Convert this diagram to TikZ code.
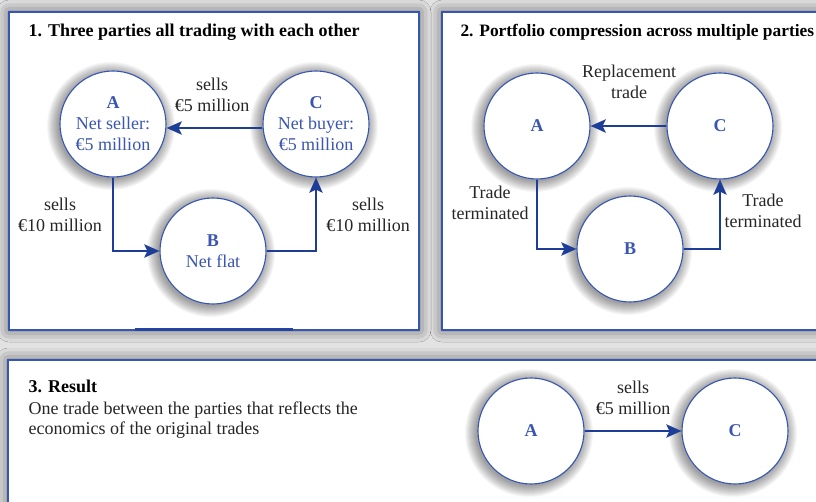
\documentclass[tikz,border=0pt]{standalone}
\usepackage{fontspec}
\setmainfont{Liberation Serif}
\usetikzlibrary{arrows.meta,shadows.blur}

\definecolor{frameblue}{HTML}{3556B4}
\definecolor{edgeblue}{HTML}{2444A4}
\definecolor{arrowblue}{HTML}{1D3D96}
\definecolor{partyblue}{HTML}{3A56B0}
\definecolor{bggray}{HTML}{E2E2E2}

\tikzset{
  panel/.style={draw=frameblue, line width=1.4pt, fill=white,
    blur shadow={shadow xshift=0pt, shadow yshift=0pt,
                 shadow blur radius=12pt, shadow opacity=60}},
  party/.style={circle, draw=frameblue, line width=1.1pt, fill=white,
    minimum size=106pt, inner sep=0pt, align=center, text=partyblue,
    font=\fontsize{18}{21}\selectfont},
  haloring/.style={fill=black, opacity=0.034},
  trade/.style={draw=arrowblue, line width=2.9pt,
    -{Stealth[length=15pt,width=13pt,inset=3pt]}},
  lbl/.style={align=center, font=\fontsize{18}{21}\selectfont, text=black!85},
  ptitle/.style={anchor=west, font=\bfseries\fontsize{18}{21}\selectfont},
}

% soft shadow round a party circle: stacked translucent discs
\newcommand\partyhalo[1]{%
  \foreach \k in {1,...,12}
    \fill[haloring] ([shift={(-2,2)}]#1) circle[radius=52+\k];}

\begin{document}
\begin{tikzpicture}
\useasboundingbox (0pt,0pt) rectangle (816pt,-502pt);
\clip (0pt,0pt) rectangle (816pt,-502pt);
\fill[bggray] (0pt,0pt) rectangle (816pt,-502pt);
\begin{scope}[x=1pt,y=-1pt]

% the three panels
\draw[panel] (9,12) rectangle (419,330);
\draw[panel] (442,12) rectangle (840,330);
\draw[panel] (8,360) rectangle (840,530);
\draw[edgeblue, line width=3pt] (135,329.5) -- (293,329.5);

% party positions
\coordinate (pA1) at (113,124);
\coordinate (pC1) at (316,124);
\coordinate (pB1) at (213,251);
\coordinate (pA2) at (537,126);
\coordinate (pC2) at (720,126);
\coordinate (pB2) at (630,249);
\coordinate (pA3) at (531,431);
\coordinate (pC3) at (735,431);
\foreach \p in {pA1,pC1,pB1,pA2,pC2,pB2,pA3,pC3} {\partyhalo{\p}}

% panel 1: three parties trading
\node[ptitle] (t1) at (25,32) {1. Three parties all trading with each other};
\node[party] (A1) at (pA1) {\textbf{A}\\Net seller:\\€5 million};
\node[party] (C1) at (pC1) {\textbf{C}\\Net buyer:\\€5 million};
\node[party] (B1) at (pB1) {\textbf{B}\\Net flat};
\draw[trade] ([yshift=-4pt]C1.west) -- ([yshift=-4pt]A1.east);
\draw[trade] (A1.south) |- (B1.west);
\draw[trade] (B1.east) -| (C1.south);
\node[lbl] (l1a) at (212,95) {sells\\€5 million};
\node[lbl] (l1b) at (60,215) {sells\\€10 million};
\node[lbl] (l1c) at (368,215) {sells\\€10 million};

% panel 2: compression
\node[ptitle, font=\bfseries\fontsize{17.4}{21}\selectfont] (t2) at (457,32)
  {2. Portfolio compression across multiple parties};
\node[party] (A2) at (pA2) {\textbf{A}};
\node[party] (C2) at (pC2) {\textbf{C}};
\node[party] (B2) at (pB2) {\textbf{B}};
\draw[trade] (C2.west) -- (A2.east);
\draw[trade] (A2.south) |- (B2.west);
\draw[trade] (B2.east) -| (C2.south);
\node[lbl] (l2a) at (629,82) {Replacement\\trade};
\node[lbl] (l2b) at (490,203) {Trade\\terminated};
\node[lbl] (l2c) at (763,211) {Trade\\terminated};

% panel 3: result
\node[ptitle] (t3) at (25,386) {3. Result};
\node[anchor=west, align=left, font=\fontsize{18}{20}\selectfont, text=black!85]
  (d3) at (25,420) {One trade between the parties that reflects the\\economics of the original trades};
\node[party] (A3) at (pA3) {\textbf{A}};
\node[party] (C3) at (pC3) {\textbf{C}};
\draw[trade] (A3.east) -- (C3.west);
\node[lbl] (l3) at (633,398) {sells\\€5 million};
\end{scope}
\end{tikzpicture}
\end{document}
